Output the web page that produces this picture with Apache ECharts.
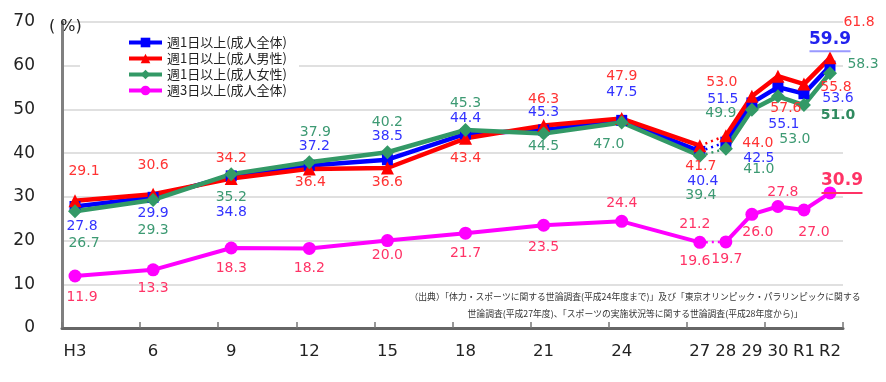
<!DOCTYPE html>
<html>
<head>
<meta charset="utf-8">
<script src="https://cdn.jsdelivr.net/npm/echarts@6/dist/echarts.min.js"></script>
<style>
html,body{margin:0;padding:0;background:#fff;}
#chart{width:886px;height:382px;}
</style>
</head>
<body>
<div id="chart"></div>
<script>
// ---- data ----
const years = [3, 6, 9, 12, 15, 18, 21, 24, 27, 28, 29, 30, 31, 32];
const tickLabels = ['H3', '6', '9', '12', '15', '18', '21', '24', '27', '28', '29', '30', 'R1', 'R2'];
const seriesNames = ['週1日以上(成人全体)', '週1日以上(成人男性)', '週1日以上(成人女性)', '週3日以上(成人全体)'];
const weekly1All   = [27.8, 29.9, 34.8, 37.2, 38.5, 44.4, 45.3, 47.5, 40.4, 42.5, 51.5, 55.1, 53.6, 59.9];
const weekly1Men   = [29.1, 30.6, 34.2, 36.4, 36.6, 43.4, 46.3, 47.9, 41.7, 44.0, 53.0, 57.6, 55.8, 61.8];
const weekly1Women = [26.7, 29.3, 35.2, 37.9, 40.2, 45.3, 44.5, 47.0, 39.4, 41.0, 49.9, 53.0, 51.0, 58.3];
const weekly3All   = [11.9, 13.3, 18.3, 18.2, 20.0, 21.7, 23.5, 24.4, 19.6, 19.7, 26.0, 27.8, 27.0, 30.9];
const extraNote27 = '21.2';
const breakIndex = 8; // survey change between H27 and H28
const yTicks = { min: 0, max: 70, interval: 10 };
const sourceLines = [
  '（出典）「体力・スポーツに関する世論調査(平成24年度まで)」及び「東京オリンピック・パラリンピックに関する',
  '世論調査(平成27年度)、「スポーツの実施状況等に関する世論調査(平成28年度から)」'
];

// ---- label placement (styles) ----
const blueOff  = [[7,20],[0,16],[0,36],[5,-19],[0,-23],[0,-16],[0,-18],[0,-28],[3,30],[33,16],[-29,-4],[6,37],[34,5],[0,-25]];
const redOff   = [[9,-29],[0,-29],[0,-20],[1,13],[0,14],[0,20],[0,-26],[0,-42],[1,21],[32,8],[-30,-14],[8,32],[32,3],[29,-35]];
const greenOff = [[9,32],[0,30],[0,23],[6,-30],[0,-30],[0,-27],[0,13],[-13,22],[1,40],[33,21],[-31,3],[17,43],[34,10],[33,-9]];
const magOff   = [[7,21],[0,18],[0,20],[0,20],[0,15],[0,20],[0,22],[0,-18],[-5,1],[1,17],[6,18],[5,-14],[10,22],[12,-10]];

const FONT = "'DejaVu Sans', 'Noto Sans CJK JP', sans-serif";
const JFONT = "'Noto Sans CJK JP', 'DejaVu Sans', sans-serif";

// category axis covering each year
const categories = [];
for (let y = years[0]; y <= years[years.length - 1]; y++) {
  const k = years.indexOf(y);
  categories.push(k >= 0 ? tickLabels[k] : '');
}

function fmt(p) { return p.value[1].toFixed(1); }

function makeGroup(name, values, color, symbol, symbolSize, lineWidth, offsets, labelColor, specials) {
  const pts = values.map((v, i) => [years[i] - years[0], v]);
  const item = (i) => {
    const label = { offset: offsets[i] };
    if (specials[i]) Object.assign(label, specials[i]);
    return { value: pts[i], label: label };
  };
  const first = [], second = [];
  for (let i = 0; i < pts.length; i++) (i <= breakIndex ? first : second).push(item(i));
  const base = {
    name: name, type: 'line', symbol: symbol, symbolSize: symbolSize,
    itemStyle: { color: color }, lineStyle: { color: color, width: lineWidth },
    z: 3,
    label: {
      show: true, position: 'inside', formatter: fmt, color: labelColor,
      fontSize: 14, fontFamily: FONT
    },
    emphasis: { disabled: true }
  };
  return [
    Object.assign({}, base, { data: first }),
    Object.assign({}, base, { data: second }),
    {
      name: name, type: 'line', symbol: 'none', silent: true, z: 2,
      lineStyle: { color: color, width: 2.5, type: [2, 4] },
      data: [pts[breakIndex], pts[breakIndex + 1]],
      label: { show: false }, emphasis: { disabled: true }
    }
  ];
}

const last = years.length - 1;
const series = [].concat(
  makeGroup(seriesNames[0], weekly1All, '#0000ff', 'rect', 11, 4.5, blueOff, '#3333ff', {
    [last]: {
      formatter: (p) => '{b|' + p.value[1].toFixed(1) + '}\n{u|}',
      rich: {
        b: { fontSize: 17, fontWeight: 'bold', color: '#2222ee', fontFamily: FONT, lineHeight: 20 },
        u: { width: 41, height: 2, lineHeight: 4, backgroundColor: '#9999ff' }
      }
    }
  }),
  makeGroup(seriesNames[1], weekly1Men, '#ff0000', 'triangle', 13, 4.5, redOff, '#ff3333', {}),
  makeGroup(seriesNames[2], weekly1Women, '#339966', 'diamond', 14, 4.5, greenOff, '#3d9a73', {
    12: { fontWeight: 'bold', color: '#2f8a5f' }
  }),
  makeGroup(seriesNames[3], weekly3All, '#ff00ff', 'circle', 13, 4, magOff, '#ff3366', {
    [breakIndex]: {
      formatter: (p) => extraNote27 + '\n\n' + p.value[1].toFixed(1),
      lineHeight: 18.5
    },
    [last]: {
      formatter: (p) => '{b|' + p.value[1].toFixed(1) + '}\n{u|}',
      rich: {
        b: { fontSize: 17, fontWeight: 'bold', color: '#ff3366', fontFamily: FONT, lineHeight: 20 },
        u: { width: 41, height: 2, lineHeight: 4, backgroundColor: '#ff3366' }
      }
    }
  })
);

const chart = echarts.init(document.getElementById('chart'), null, { renderer: 'canvas' });
chart.setOption({
  animation: false,
  backgroundColor: '#ffffff',
  grid: { left: 62, right: 43, top: 22, bottom: 54, containLabel: false },
  legend: {
    data: seriesNames,
    orient: 'vertical',
    left: 80, top: 28,
    padding: [8, 12, 8, 47],
    backgroundColor: '#ffffff',
    itemWidth: 33, itemHeight: 12, itemGap: 3,
    lineStyle: { width: 4 },
    textStyle: { fontSize: 13, color: '#222', fontFamily: JFONT },
    selectedMode: false
  },
  xAxis: {
    type: 'category',
    data: categories,
    boundaryGap: true,
    axisLine: { lineStyle: { color: '#666666', width: 3 } },
    axisTick: {
      show: true, inside: true, length: 6,
      interval: (i) => i % 3 === 0,
      lineStyle: { color: '#777777', width: 1.5 }
    },
    axisLabel: {
      interval: (i, v) => v !== '',
      color: '#222', fontSize: 16.5, fontFamily: FONT, margin: 15
    },
    splitLine: { show: false }
  },
  yAxis: {
    type: 'value',
    min: yTicks.min, max: yTicks.max, interval: yTicks.interval,
    axisLine: { show: true, lineStyle: { color: '#808080', width: 3 } },
    axisTick: { show: false },
    axisLabel: { color: '#222', fontSize: 17, fontFamily: FONT, margin: 27 },
    splitLine: { lineStyle: { color: '#d6d6d6', width: 1.5 } }
  },
  graphic: [
    { type: 'text', left: 49, top: 19, z: 10,
      style: { text: '( %)', fontSize: 16, fontFamily: FONT, fill: '#222' } },
    { type: 'text', x: 635, y: 297, z: 10,
      style: { text: sourceLines[0], fontSize: 8.8, fontFamily: JFONT, fill: '#333', align: 'center', verticalAlign: 'middle' } },
    { type: 'text', x: 635, y: 314, z: 10,
      style: { text: sourceLines[1], fontSize: 8.8, fontFamily: JFONT, fill: '#333', align: 'center', verticalAlign: 'middle' } }
  ],
  series: series
});
</script>
</body>
</html>
